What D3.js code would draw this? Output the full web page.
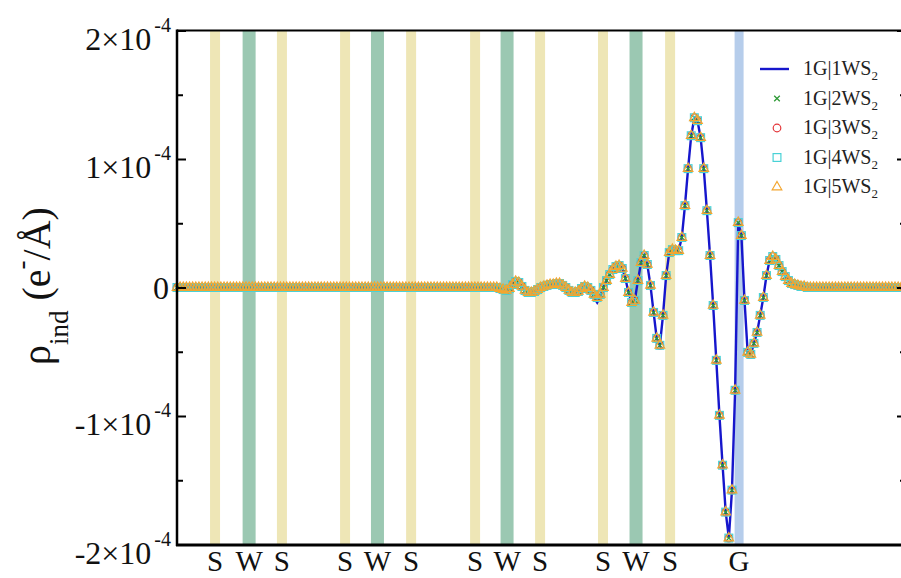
<!DOCTYPE html>
<html><head><meta charset="utf-8">
<script src="https://cdn.jsdelivr.net/npm/d3@7"></script>
<style>html,body{margin:0;padding:0;background:#fff;}svg{display:block;}</style>
</head><body>
<svg id="chart" width="901" height="578"></svg>
<script>
// ---- data (rho in units of 1e-4 e/Å, sampled every zStep Å) ----
const zStep = 0.15;
const rhoCommon = [
0,0,0,0,0,0,0,0,0,0, 0,0,0,0,0,0,0,0,0,0,
0,0,0,0,0,0,0,0,0,0, 0,0,0,0,0,0,0,0,0,0,
0,0,0,0,0,0,0,0,0,0, 0,0,0,0,0,0,0,0,0,0,
0,0,0,0,0,0,0,0,0,0, 0,0,0,0,0,0,0,0,0,0,
0,0,0,0,0,0,0,0,0,0, 0,0,0,0,0,0,0,0,0,0,
0,0,0,
-0.008,-0.016,-0.023,-0.008,0.023,0.047,0.039,0.008,-0.023,-0.039,
-0.039,-0.031,-0.016,0,0.008,0.016,0.023,0.023,0.031,0.031,
0.016,0,-0.023,-0.039,-0.039,-0.031,-0.008,0.008,0,-0.023,
-0.054,-0.078,-0.054,0,0.054,0.101,0.140,0.163,0.171,0.148,
0.070,-0.039,-0.117,-0.101,0.054,0.194,0.249,0.179,0.016,-0.194,
-0.396,-0.450,-0.217,0.093,0.272,0.295,0.287,0.287,0.389,0.637,
0.925,1.181,1.321,1.298,1.166,0.925,0.598,0.249,-0.140,-0.567,
-0.995,-1.383,-1.748,-1.950,-1.577,-0.800,0.505,0.404,-0.101,-0.505,
-0.521,-0.435,-0.350,-0.217,-0.078,0.093,0.210,0.241,0.218,0.171,
0.124,0.085,0.054,0.031,0.023,0.016,0.008,0.008,0,
0,0,0,0,0,0,0,0,0,0, 0,0,0,0,0,0,0,0,0,0, 0,0,0,0,0,0,0,0,0,0
];
// 1G|1WS2 line differs slightly near the outer S layer
const line1Overrides = [[133,-0.080],[134,-0.117],[135,-0.070]];

const seriesNames = ["1G|1WS", "1G|2WS", "1G|3WS", "1G|4WS", "1G|5WS"];
const seriesSub = "2";

// atomic planes (z in Å)
const atomZ    = [1.82, 3.45, 5.02, 8.04, 9.59, 11.20, 14.26, 15.79, 17.37, 20.38, 21.96, 23.59, 26.89];
const atomType = ["S","W","S","S","W","S","S","W","S","S","W","S","G"];

const yTicks    = [-2, -1, 0, 1, 2];
const yMinor    = [-1.5, -0.5, 0.5, 1.5];
const yTickMant = ["-2×10", "-1×10", "0", "1×10", "2×10"];
const yTickExp  = ["-4", "-4", "", "-4", "-4"];

// ---- drawing ----
const svg = d3.select("#chart");
const font = "'Liberation Serif','Times New Roman',serif";
const x = d3.scaleLinear().domain([0, 34.65]).range([177, 901.3]);
const y = d3.scaleLinear().domain([-2, 2]).range([544.5, 30.5]);
const pTop = 30.5, pBottom = 544.5, pLeft = 177, pRight = 906;

// bands
const bandStyle = {S:{w:10, c:"#eee6b6"}, W:{w:13, c:"#9bc8b2"}, G:{w:9, c:"#b6cdeb"}};
svg.append("g").selectAll("rect").data(atomZ).join("rect")
  .attr("x", (d,i) => x(d) - bandStyle[atomType[i]].w/2)
  .attr("width", (d,i) => bandStyle[atomType[i]].w)
  .attr("y", pTop).attr("height", pBottom - pTop)
  .attr("fill", (d,i) => bandStyle[atomType[i]].c);

// data
const pts = rhoCommon.map((v,i) => ({z: i*zStep, v}));
const linePts = pts.map(p => ({...p}));
line1Overrides.forEach(([i,v]) => { linePts[i].v = v; });

svg.append("path").datum(linePts)
  .attr("d", d3.line().x(d => x(d.z)).y(d => y(d.v)))
  .attr("fill","none").attr("stroke","#1616cc").attr("stroke-width",2.4);

const xPath = "M-2.8,-2.8L2.8,2.8M-2.8,2.8L2.8,-2.8";
const gX = svg.append("g");
gX.selectAll("path").data(pts).join("path")
  .attr("transform", d => `translate(${x(d.z)},${y(d.v)})`)
  .attr("d", xPath)
  .attr("stroke","#2f9a37").attr("stroke-width",1.3).attr("fill","none");
const gC = svg.append("g");
gC.selectAll("circle").data(pts).join("circle")
  .attr("cx", d => x(d.z)).attr("cy", d => y(d.v)).attr("r",3.8)
  .attr("fill","none").attr("stroke","#e4363a").attr("stroke-width",1.2);
const gS = svg.append("g");
gS.selectAll("rect").data(pts).join("rect")
  .attr("x", d => x(d.z)-3.9).attr("y", d => y(d.v)-3.9).attr("width",7.8).attr("height",7.8)
  .attr("fill","none").attr("stroke","#49d2d6").attr("stroke-width",1.2);
const tri = d3.symbol().type(d3.symbolTriangle).size(40);
const gT = svg.append("g");
gT.selectAll("path").data(pts).join("path")
  .attr("transform", d => `translate(${x(d.z)},${y(d.v)})`)
  .attr("d", tri()).attr("fill","none").attr("stroke","#f3a630").attr("stroke-width",1.2);

// frame and axes
svg.append("line").attr("x1",pLeft).attr("x2",901).attr("y1",pTop).attr("y2",pTop)
  .attr("stroke","#000").attr("stroke-width",2.2);
svg.append("line").attr("x1",pLeft-1).attr("x2",901).attr("y1",pBottom+0.5).attr("y2",pBottom+0.5)
  .attr("stroke","#000").attr("stroke-width",3);
svg.append("line").attr("x1",pLeft).attr("x2",pLeft).attr("y1",pTop-1).attr("y2",pBottom+1.5)
  .attr("stroke","#000").attr("stroke-width",2.5);

const lAx = svg.append("g").attr("transform",`translate(${pLeft},0)`);
lAx.call(d3.axisRight(y).tickValues(yTicks).tickSize(9).tickSizeOuter(0).tickFormat(""));
const lAxm = svg.append("g").attr("transform",`translate(${pLeft},0)`);
lAxm.call(d3.axisRight(y).tickValues(yMinor).tickSize(6).tickSizeOuter(0).tickFormat(""));
const rAx = svg.append("g").attr("transform",`translate(${pRight},0)`);
rAx.call(d3.axisLeft(y).tickValues(yTicks).tickSize(9).tickSizeOuter(0).tickFormat(""));
const rAxm = svg.append("g").attr("transform",`translate(${pRight},0)`);
rAxm.call(d3.axisLeft(y).tickValues(yMinor).tickSize(6).tickSizeOuter(0).tickFormat(""));
svg.selectAll(".domain").remove();
svg.selectAll(".tick line").attr("stroke","#000").attr("stroke-width",2);

// y tick labels
const lab = svg.append("g").attr("font-family",font).attr("fill","#111");
yTicks.forEach((t,i) => {
  const tx = lab.append("text").attr("text-anchor","end").attr("font-size",32);
  if (yTickExp[i]) {
    tx.attr("x",171).attr("y", y(t) + 19);
    tx.append("tspan").text(yTickMant[i]);
    tx.append("tspan").attr("dx",3).attr("dy",-18).attr("font-size",20).text(yTickExp[i]);
  } else {
    tx.attr("x",169).attr("y", y(t) + 11).text(yTickMant[i]);
  }
});

// y title
const title = svg.append("text").attr("font-family",font).attr("font-size",40).attr("fill","#111")
  .attr("text-anchor","middle").attr("transform","translate(50,286) rotate(-90)");
title.append("tspan").text("ρ");
title.append("tspan").attr("dy",18).attr("font-size",27).text("ind");
title.append("tspan").attr("dy",-18).text(" (e");
title.append("tspan").attr("dy",-20).attr("font-size",27).text("-");
title.append("tspan").attr("dy",20).text("/Å)");

// atom labels
svg.append("g").selectAll("text").data(atomZ).join("text")
  .attr("x", d => x(d)).attr("y", 571).attr("text-anchor","middle")
  .attr("font-family",font).attr("font-size",29).attr("fill","#111")
  .text((d,i) => atomType[i]);

// legend
const leg = svg.append("g");
const legY0 = 69, legDy = 29.5, legMX = 777, legTX = 803;
seriesNames.forEach((name,i) => {
  const cy = legY0 + i*legDy;
  if (i === 0) {
    leg.append("line").attr("x1",760).attr("x2",789).attr("y1",cy).attr("y2",cy)
      .attr("stroke","#1616cc").attr("stroke-width",2.4);
  } else if (i === 1) {
    leg.append("path").attr("transform",`translate(${legMX},${cy})`)
      .attr("d",xPath).attr("stroke","#2f9a37").attr("stroke-width",1.3);
  } else if (i === 2) {
    leg.append("circle").attr("cx",legMX).attr("cy",cy).attr("r",3.8)
      .attr("fill","none").attr("stroke","#e4363a").attr("stroke-width",1.2);
  } else if (i === 3) {
    leg.append("rect").attr("x",legMX-3.9).attr("y",cy-3.9).attr("width",7.8).attr("height",7.8)
      .attr("fill","none").attr("stroke","#49d2d6").attr("stroke-width",1.2);
  } else {
    leg.append("path").attr("transform",`translate(${legMX},${cy})`).attr("d",tri())
      .attr("fill","none").attr("stroke","#f3a630").attr("stroke-width",1.2);
  }
  const t = leg.append("text").attr("x",legTX).attr("y",cy+6).attr("font-family",font)
    .attr("font-size",20).attr("fill","#222");
  t.append("tspan").text(name);
  t.append("tspan").attr("dy",5).attr("font-size",13).text(seriesSub);
});
</script>
</body></html>
